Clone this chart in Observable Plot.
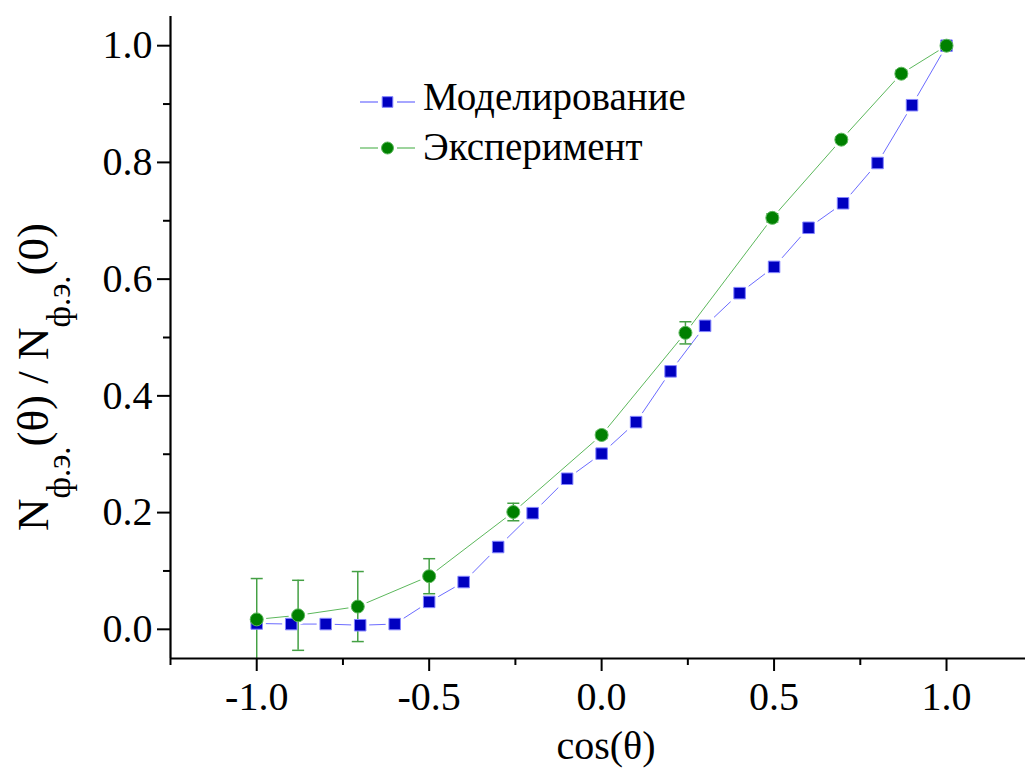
<!DOCTYPE html>
<html><head><meta charset="utf-8">
<script src="https://cdn.jsdelivr.net/npm/d3@7"></script>
<script src="https://cdn.jsdelivr.net/npm/@observablehq/plot@0.6"></script>
<style>body{margin:0;background:#fff;}</style>
</head><body><div id="chart"></div>
<script>
// ---- data ----
const modelX = [-1.0,-0.9,-0.8,-0.7,-0.6,-0.5,-0.4,-0.3,-0.2,-0.1,0.0,0.1,0.2,0.3,0.4,0.5,0.6,0.7,0.8,0.9,1.0];
const modelY = [0.010,0.009,0.009,0.007,0.009,0.047,0.081,0.141,0.199,0.258,0.301,0.355,0.442,0.520,0.576,0.621,0.688,0.730,0.799,0.898,1.0];
const expX = [-1.0,-0.88,-0.707,-0.5,-0.256,0.0,0.243,0.495,0.695,0.869,1.0];
const expY = [0.017,0.024,0.039,0.091,0.201,0.333,0.508,0.705,0.839,0.952,1.0];
const expErr = [0.07,0.06,0.06,0.03,0.015,0.006,0.019,0.007,0.005,0.006,0.004];
const xMajorTicks = [-1.0,-0.5,0.0,0.5,1.0];
const xMinorTicks = [-1.25,-0.75,-0.25,0.25,0.75];
const yMajorTicks = [0.0,0.2,0.4,0.6,0.8,1.0];
const yMinorTicks = [0.1,0.3,0.5,0.7,0.9];
const seriesNames = ["Моделирование","Эксперимент"];
const xTitle = "cos(θ)";

const model = modelX.map((x,i)=>({x, y: modelY[i]}));
const exp = expX.map((x,i)=>({x, y: expY[i], e: expErr[i]}));

const blueFill = "#0000c0", blueEdge = "#8484ff", blueLine = "#6b6bff";
const greenFill = "#008000", greenEdge = "#5cb85c", greenLine = "#5cb85c", greenErr = "#44a044";
const font = "'Liberation Serif','Times New Roman',serif";

const cap = {draw(ctx, size){ const w = Math.sqrt(size/Math.PI); ctx.moveTo(-w,0); ctx.lineTo(w,0); }};

const plot = Plot.plot({
  width: 1027, height: 768,
  marginLeft: 170, marginRight: 2, marginTop: 16, marginBottom: 110,
  x: {domain: [-1.25, 1.229], label: null},
  y: {domain: [-0.05, 1.05], label: null},
  style: {fontFamily: font, fontSize: "40px", color: "#000", background: "#fff"},
  marks: [
    Plot.line(model, {x: "x", y: "y", stroke: blueLine, strokeWidth: 1}),
    Plot.dot(model, {x: "x", y: "y", symbol: "square", r: 10.2, fill: "white"}),
    Plot.line(exp, {x: "x", y: "y", stroke: greenLine, strokeWidth: 1}),
    Plot.dot(exp, {x: "x", y: "y", r: 9.6, fill: "white"}),
    Plot.ruleX(exp, {x: "x", y1: d => d.y - d.e, y2: d => d.y + d.e, stroke: greenErr, strokeWidth: 1.5, clip: true}),
    Plot.dot(exp, {x: "x", y: d => d.y + d.e, symbol: cap, r: 6, fill: "none", stroke: greenErr, strokeWidth: 1.5, clip: true}),
    Plot.dot(exp, {x: "x", y: d => d.y - d.e, symbol: cap, r: 6, fill: "none", stroke: greenErr, strokeWidth: 1.5, clip: true}),
    Plot.dot(model, {x: "x", y: "y", symbol: "square", r: 6.5, fill: blueFill, stroke: blueEdge, strokeWidth: 1}),
    Plot.dot(exp, {x: "x", y: "y", r: 6.5, fill: greenFill, stroke: greenEdge, strokeWidth: 1}),
    Plot.axisX(xMajorTicks, {tickSize: 13, tickPadding: 10, tickFormat: d => d.toFixed(1), strokeWidth: 2, label: null}),
    Plot.axisX(xMinorTicks, {tickSize: 7, tickFormat: () => "", strokeWidth: 2, label: null}),
    Plot.axisY(yMajorTicks, {tickSize: 13, tickPadding: 5, tickFormat: d => d.toFixed(1), strokeWidth: 2, label: null}),
    Plot.axisY(yMinorTicks, {tickSize: 7, tickFormat: () => "", strokeWidth: 2, label: null}),
    Plot.ruleY([-0.05], {strokeWidth: 2.2}),
    Plot.ruleX([-1.25], {strokeWidth: 2.2})
  ]
});
document.getElementById("chart").appendChild(plot);

const svg = d3.select(plot);

// legend
const legendItems = [
  {name: seriesNames[0], line: blueLine, fill: blueFill, edge: blueEdge, sym: d3.symbolSquare, y: 102, ty: 110},
  {name: seriesNames[1], line: greenLine, fill: greenFill, edge: greenEdge, sym: d3.symbolCircle, y: 148, ty: 160}
];
const lg = svg.append("g").attr("text-anchor", "start");
legendItems.forEach(it => {
  lg.append("line").attr("x1", 360).attr("x2", 378).attr("y1", it.y).attr("y2", it.y).attr("stroke", it.line).attr("stroke-width", 1.2);
  lg.append("line").attr("x1", 397).attr("x2", 415).attr("y1", it.y).attr("y2", it.y).attr("stroke", it.line).attr("stroke-width", 1.2);
  lg.append("path").attr("transform", `translate(387.5,${it.y})`)
    .attr("d", d3.symbol(it.sym, Math.PI * 6 * 6)())
    .attr("fill", it.fill).attr("stroke", it.edge).attr("stroke-width", 1);
  lg.append("text").attr("x", 423).attr("y", it.ty).attr("text-anchor", "start")
    .attr("font-family", font).attr("font-size", 39).attr("fill", "#000").text(it.name);
});

// x title
svg.append("text").attr("x", 606).attr("y", 759).attr("text-anchor", "middle")
  .attr("font-family", font).attr("font-size", 40).attr("fill", "#000").text(xTitle);

// y title with subscripts
const yt = svg.append("text").attr("transform", "translate(48,531) rotate(-90)").attr("text-anchor", "start")
  .attr("font-family", font).attr("font-size", 45).attr("fill", "#000");
yt.append("tspan").text("N");
yt.append("tspan").attr("dy", 22).attr("font-size", 33).text("ф.э.");
yt.append("tspan").attr("dy", -22).text("(θ) / N");
yt.append("tspan").attr("dy", 22).attr("font-size", 33).text("ф.э.");
yt.append("tspan").attr("dy", -22).text("(0)");
</script>
</body></html>
